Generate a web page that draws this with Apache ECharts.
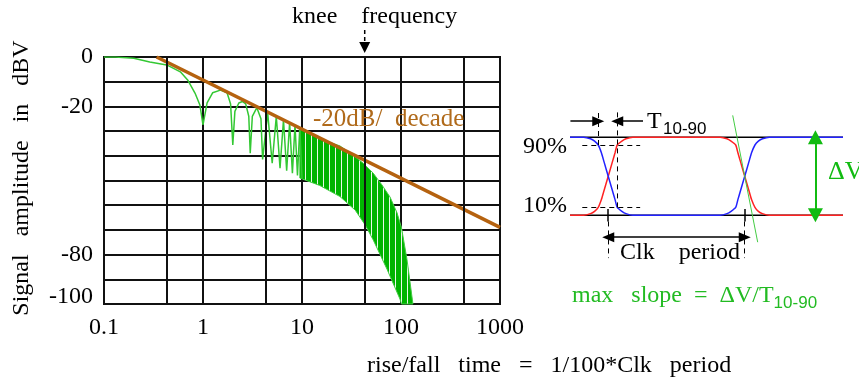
<!DOCTYPE html>
<html>
<head>
<meta charset="utf-8">
<style>
html, body { margin: 0; padding: 0; background: #fff; }
#main { width: 859px; height: 385px; }
</style>
<script src="https://cdn.jsdelivr.net/npm/echarts@6/dist/echarts.min.js"></script>
</head>
<body>
<div id="main"></div>
<script>
// left panel: spectrum of a trapezoid clock
var specFreq = [0.1, 0.13, 0.2, 0.29, 0.43, 0.59, 0.7, 0.83, 0.93, 1.0, 1.1, 1.25, 1.5, 1.75, 1.9, 2.0,
                2.1, 2.3, 2.5, 2.7, 2.9, 3.0, 3.15, 3.5, 3.85, 4.0, 4.5, 5.0, 5.5, 6.0, 6.5, 7.0, 7.5,
                8.0, 8.5, 9.0, 9.5, 10];
var specDb = [0, 0, -0.5, -2, -3.2, -6, -9.3, -14.6, -19.4, -27.5, -18.6, -14.5, -13.4, -14.5, -19, -35.6,
              -22, -18.6, -18, -19, -24, -39, -24, -20.5, -25, -41.5, -22.5, -43, -24, -45, -25.5, -46, -26.5,
              -47, -27.5, -48, -28.5, -49];
// dense part: upper and lower envelope of the lobes
var bandUpFreq = [9.5, 16.3, 24.2, 32.7, 41.5, 52.3, 64.2, 77.5, 91, 101, 115, 130, 132];
var bandUpDb = [-28.5, -33.6, -36, -39.7, -43, -47, -51.8, -56.7, -63, -69, -82, -98, -100];
var bandLoFreq = [9.5, 15.1, 24.2, 34.5, 43.5, 52.3, 72.4, 97.6, 101];
var bandLoDb = [-49, -52, -56.5, -62, -68, -74, -86, -98, -100];
// -20dB/decade asymptote
var slopeFreq = [0.34, 1000];
var slopeDb = [0, -69];
var gridFreqs = [0.43, 4.3, 43, 430];
var kneeFreq = 43;
var yLabelValues = [0, -20, -80, -100];

// right panel: clock edges (time in clock periods, level 0..1)
var edgeTime = [-0.28, -0.18, -0.13, -0.1, -0.073, -0.05, -0.03, 0, 0.03, 0.05, 0.066, 0.1, 0.13, 0.18,
                0.82, 0.87, 0.9, 0.934, 0.95, 0.97, 1.0, 1.03, 1.05, 1.075, 1.1, 1.13, 1.18, 1.72];
var redLevel = [0, 0, 0.02, 0.05, 0.1, 0.2, 0.32, 0.5, 0.68, 0.8, 0.9, 0.95, 0.98, 1,
                1, 0.98, 0.95, 0.9, 0.8, 0.68, 0.5, 0.32, 0.2, 0.1, 0.05, 0.02, 0, 0];
var blueLevel = [1, 1, 0.98, 0.95, 0.9, 0.8, 0.68, 0.5, 0.32, 0.2, 0.1, 0.05, 0.02, 0,
                 0, 0.02, 0.05, 0.1, 0.2, 0.32, 0.5, 0.68, 0.8, 0.9, 0.95, 0.98, 1, 1];
var maxSlopeTime = [0.912, 1.095];
var maxSlopeLevel = [1.28, -0.346];

var SERIF = '"Liberation Serif", "Times New Roman", serif';
var SANS = '"Liberation Sans", Arial, sans-serif';
var GREEN = '#22bb22';

function zip(xs, ys) {
    var out = [];
    for (var i = 0; i < xs.length; i++) out.push([xs[i], ys[i]]);
    return out;
}

// hatch pattern for the dense lobes (green with thin white gaps)
var hatch = document.createElement('canvas');
hatch.width = 6;
hatch.height = 4;
var hctx = hatch.getContext('2d');
hctx.fillStyle = '#00b400';
hctx.fillRect(0, 0, 6, 4);
hctx.fillStyle = '#e8f8e8';
hctx.fillRect(5, 0, 1, 4);

var dom = document.getElementById('main');
var myChart = echarts.init(dom);

function seg(x1, y1, x2, y2, style, s1, s2, size) {
    return [
        { coord: [x1, y1], symbol: s1 || 'none', symbolSize: size || [10, 12], lineStyle: style },
        { coord: [x2, y2], symbol: s2 || 'none', symbolSize: size || [10, 12] }
    ];
}
var dash = { color: '#000', width: 1, type: [5, 4] };
var solid = { color: '#000', width: 1.5, type: 'solid' };
var greenArrow = { color: '#11bb11', width: 2, type: 'solid' };

var option = {
    animation: false,
    backgroundColor: '#fff',
    grid: [
        { left: 104, top: 57, width: 396, height: 247, outerBoundsMode: 'none',
          show: true, borderColor: '#111', borderWidth: 2 },
        { left: 570, top: 106, width: 273, height: 156, outerBoundsMode: 'none' }
    ],
    xAxis: [
        {
            type: 'log', logBase: 10, min: 0.1, max: 1000, gridIndex: 0,
            axisLine: { show: true, lineStyle: { color: '#111', width: 2 } },
            axisTick: { show: false },
            splitLine: { show: true, lineStyle: { color: '#111', width: 2 } },
            axisLabel: {
                margin: 12, color: '#000', fontSize: 24, fontFamily: SERIF,
                formatter: function (v) { return String(v); }
            }
        },
        { type: 'value', min: -0.28, max: 1.72, gridIndex: 1, show: false, splitLine: { show: false } }
    ],
    yAxis: [
        {
            type: 'value', min: -100, max: 0, interval: 10, gridIndex: 0,
            axisLine: { show: true, lineStyle: { color: '#111', width: 2 } },
            axisTick: { show: false },
            splitLine: { show: true, lineStyle: { color: '#111', width: 2 } },
            axisLabel: {
                margin: 11, color: '#000', fontSize: 24, fontFamily: SERIF,
                formatter: function (v) {
                    if (yLabelValues.indexOf(v) < 0) return '';
                    return v === -100 ? '{up|-100}' : String(v);
                },
                rich: { up: { fontSize: 24, fontFamily: SERIF, color: '#000', padding: [0, 0, 14, 0] } }
            }
        },
        { type: 'value', min: -0.6, max: 1.4, gridIndex: 1, show: false, splitLine: { show: false } }
    ],
    series: [
        {
            name: 'grid extra',
            type: 'line', xAxisIndex: 0, yAxisIndex: 0, data: [], z: 1,
            markLine: {
                silent: true, symbol: 'none', label: { show: false },
                lineStyle: { color: '#111', width: 2, type: 'solid' },
                data: gridFreqs.map(function (f) { return { xAxis: f }; })
            }
        },
        {
            name: 'lobes dense',
            type: 'custom', xAxisIndex: 0, yAxisIndex: 0, z: 3,
            data: [[bandUpFreq[0], bandUpDb[0]]],
            renderItem: function (params, api) {
                var pts = [];
                for (var i = 0; i < bandUpFreq.length; i++) pts.push(api.coord([bandUpFreq[i], bandUpDb[i]]));
                for (var j = bandLoFreq.length - 1; j >= 0; j--) pts.push(api.coord([bandLoFreq[j], bandLoDb[j]]));
                return {
                    type: 'polygon',
                    shape: { points: pts },
                    style: { fill: { image: hatch, repeat: 'repeat' }, stroke: '#44cc44', lineWidth: 1 }
                };
            }
        },
        {
            name: 'spectrum',
            type: 'line', xAxisIndex: 0, yAxisIndex: 0, z: 3,
            data: zip(specFreq, specDb), symbol: 'none',
            lineStyle: { color: '#33c833', width: 1.5 }
        },
        {
            name: 'slope',
            type: 'line', xAxisIndex: 0, yAxisIndex: 0, z: 4,
            data: zip(slopeFreq, slopeDb), symbol: 'none',
            lineStyle: { color: '#b5620f', width: 3.5 }
        },
        {
            name: 'rail high', type: 'line', xAxisIndex: 1, yAxisIndex: 1, symbol: 'none',
            data: [[-0.28, 1], [1.72, 1]], lineStyle: { color: '#000', width: 1.5 }
        },
        {
            name: 'rail low', type: 'line', xAxisIndex: 1, yAxisIndex: 1, symbol: 'none',
            data: [[-0.28, 0], [1.72, 0]], lineStyle: { color: '#000', width: 1.5 }
        },
        {
            name: 'clk', type: 'line', xAxisIndex: 1, yAxisIndex: 1, symbol: 'none', smooth: 0.2,
            data: zip(edgeTime, redLevel), lineStyle: { color: '#ff2222', width: 1.5 }
        },
        {
            name: 'clk inv', type: 'line', xAxisIndex: 1, yAxisIndex: 1, symbol: 'none', smooth: 0.2,
            data: zip(edgeTime, blueLevel), lineStyle: { color: '#2222ff', width: 1.5 }
        },
        {
            name: 'max slope', type: 'line', xAxisIndex: 1, yAxisIndex: 1, symbol: 'none', clip: false,
            data: zip(maxSlopeTime, maxSlopeLevel), lineStyle: { color: '#44cc44', width: 1 }
        },
        {
            name: 'annotations',
            type: 'line', xAxisIndex: 1, yAxisIndex: 1, data: [], clip: false,
            markLine: {
                silent: true, label: { show: false }, symbol: 'none',
                data: [
                    seg(-0.19, 0.9, 0.234, 0.9, dash),
                    seg(-0.19, 0.1, 0.234, 0.1, dash),
                    seg(-0.073, 0.9, -0.073, 1.32, dash),
                    seg(0.066, 0.1, 0.066, 1.32, dash),
                    seg(-0.277, 1.205, -0.073, 1.205, solid, 'none', 'triangle'),
                    seg(0.255, 1.205, 0.066, 1.205, solid, 'none', 'triangle'),
                    seg(0, -0.282, 1, -0.282, solid, 'triangle', 'triangle'),
                    seg(0, 0.08, 0, -0.08, solid),
                    seg(1, 0.08, 1, -0.08, solid),
                    seg(0, -0.08, 0, -0.55, dash),
                    seg(1, -0.08, 1, -0.55, dash),
                    seg(1.518, 1, 1.518, 0, greenArrow, 'triangle', 'triangle', [15, 14])
                ]
            }
        }
    ]
};

myChart.setOption(option);

// texts and the knee arrow
var measureCtx = document.createElement('canvas').getContext('2d');
function textWidth(str, font) {
    measureCtx.font = font;
    return measureCtx.measureText(str).width;
}
function txt(x, y, str, font, color, align) {
    return {
        type: 'text', x: x, y: y, z: 100,
        style: {
            text: str, font: font, fill: color || '#000',
            align: align || 'left', textAlign: align || 'left',
            verticalAlign: 'middle', textVerticalAlign: 'middle'
        }
    };
}
var F24 = '24px ' + SERIF;
var kx = myChart.convertToPixel({ gridIndex: 0 }, [kneeFreq, 0])[0];
var slopeMain = 'max   slope  =  \u0394V/T';
var slopeW = textWidth(slopeMain, F24);

var graphics = [
    {
        type: 'text', x: 22, y: 178, rotation: Math.PI / 2, z: 100,
        style: { text: 'Signal   amplitude   in   dBV', font: F24, fill: '#000',
                 align: 'center', textAlign: 'center', verticalAlign: 'middle', textVerticalAlign: 'middle' }
    },
    txt(292, 17, 'knee    frequency', F24),
    {
        type: 'line', z: 100, shape: { x1: kx, y1: 30, x2: kx, y2: 43 },
        style: { stroke: '#000', lineWidth: 1.5, lineDash: [4, 3] }
    },
    {
        type: 'polygon', z: 100, shape: { points: [[kx - 5.5, 42], [kx + 5.5, 42], [kx, 53]] },
        style: { fill: '#000' }
    },
    txt(313, 119, '-20dB/  decade', '25px ' + SERIF, '#b06a1a'),
    txt(567, 147, '90%', F24, '#000', 'right'),
    txt(567, 206, '10%', F24, '#000', 'right'),
    txt(647, 122, 'T', F24),
    txt(663, 129, '10-90', '17px ' + SANS),
    txt(828, 172, '\u0394V', '26px ' + SERIF, '#11bb11'),
    txt(620, 253, 'Clk    period', F24),
    txt(572, 296, slopeMain, F24, GREEN),
    txt(572 + slopeW, 303, '10-90', '17px ' + SANS, GREEN),
    txt(367, 366, 'rise/fall   time   =   1/100*Clk   period', F24)
];

myChart.setOption({ graphic: graphics });

const resizeObserver = new ResizeObserver(entry => {
    myChart.resize();
});
resizeObserver.observe(dom);
</script>
</body>
</html>
